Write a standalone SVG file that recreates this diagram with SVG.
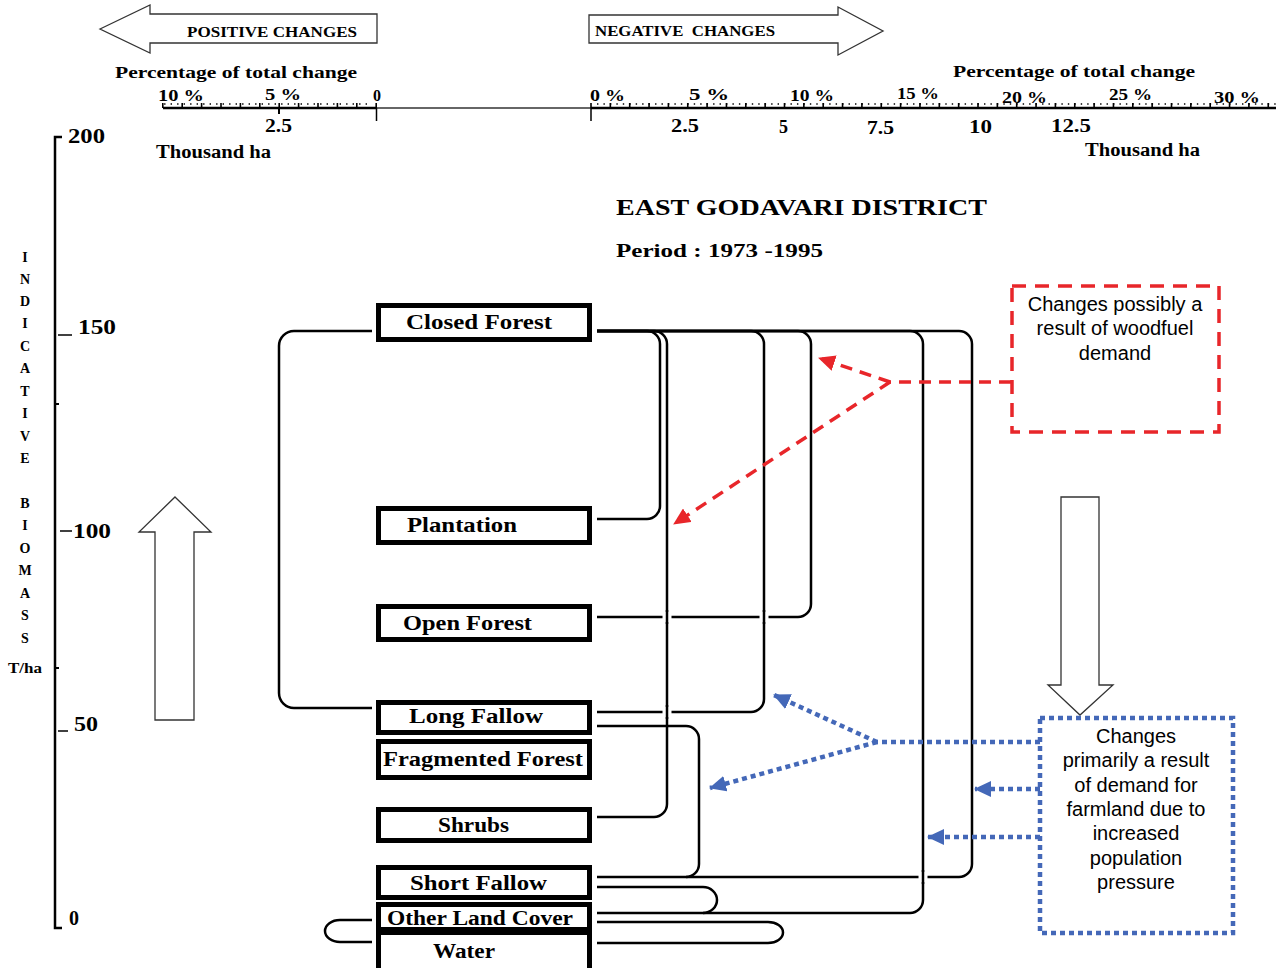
<svg xmlns="http://www.w3.org/2000/svg" width="1283" height="968" viewBox="0 0 1283 968">
<defs>
<style>
.t{font-family:"Liberation Serif","Times New Roman",serif;font-weight:bold;fill:#000}
.n{font-family:"Liberation Serif","Times New Roman",serif;font-weight:bold;fill:#000;font-size:20px}
.a{font-family:"Liberation Sans",Arial,sans-serif;fill:#000;font-size:20px;text-anchor:middle}
.box{fill:#fff;stroke:#000;stroke-width:5}
.c{fill:none;stroke:#000;stroke-width:2.5}
.red{fill:none;stroke:#e8262a;stroke-width:3.5;stroke-dasharray:12 8}
.blue{fill:none;stroke:#4468b8;stroke-width:4.5;stroke-dasharray:5 4}
.big{fill:#fff;stroke:#333;stroke-width:1.3}
.gap{stroke:#fff;stroke-width:9}
</style>
<marker id="ra" markerUnits="userSpaceOnUse" markerWidth="18" markerHeight="16" refX="16" refY="8" orient="auto"><path d="M0,0 L17,8 L0,16 z" fill="#e8262a"/></marker>
<marker id="ba" markerUnits="userSpaceOnUse" markerWidth="18" markerHeight="16" refX="16" refY="8" orient="auto"><path d="M0,0 L17,8 L0,16 z" fill="#4468b8"/></marker>
</defs>
<rect width="1283" height="968" fill="#fff"/>

<g id="header">
<polygon class="big" points="100,29 150,5 150,14 377,14 377,43 150,43 150,53"/>
<text class="t" x="187" y="37" font-size="15" textLength="170" lengthAdjust="spacingAndGlyphs">POSITIVE CHANGES</text>
<polygon class="big" points="589,15 838,15 838,7 883,31 838,55 838,43 589,43"/>
<text class="t" x="595" y="36" font-size="15" textLength="180" lengthAdjust="spacingAndGlyphs" xml:space="preserve">NEGATIVE  CHANGES</text>
<text class="t" x="115" y="78" font-size="17" textLength="242" lengthAdjust="spacingAndGlyphs">Percentage of total change</text>
<text class="t" x="953" y="77" font-size="17" textLength="242" lengthAdjust="spacingAndGlyphs">Percentage of total change</text>
<!-- axes -->
<line x1="163" y1="108" x2="377" y2="108" stroke="#000" stroke-width="2.5"/>
<line x1="377" y1="108" x2="591" y2="108" stroke="#333" stroke-width="1.3"/>
<line x1="591" y1="108" x2="1276" y2="108" stroke="#000" stroke-width="2.5"/>
<line x1="376.5" y1="108" x2="376.5" y2="121" stroke="#000" stroke-width="1.5"/>
<line x1="591" y1="108" x2="591" y2="121" stroke="#000" stroke-width="1.5"/>
<line x1="279" y1="108" x2="279" y2="114" stroke="#000" stroke-width="2"/>
<line x1="377" y1="105.5" x2="162" y2="105.5" stroke="#000" stroke-width="5" stroke-dasharray="1.6 17.8"/>
<line x1="367" y1="104" x2="162" y2="104" stroke="#000" stroke-width="1.4" stroke-dasharray="1.4 5.1"/>
<line x1="590.2" y1="105.5" x2="1276" y2="105.5" stroke="#000" stroke-width="5" stroke-dasharray="1.6 17.75"/>
<line x1="597" y1="104" x2="1276" y2="104" stroke="#000" stroke-width="1.4" stroke-dasharray="1.4 5.05"/>
<g class="t" font-size="16">
<text x="158" y="101" textLength="46" lengthAdjust="spacingAndGlyphs">10 %</text>
<text x="265" y="100" textLength="36" lengthAdjust="spacingAndGlyphs">5 %</text>
<text x="373" y="101">0</text>
<text x="590" y="101" textLength="35" lengthAdjust="spacingAndGlyphs">0 %</text>
<text x="689" y="100" textLength="40" lengthAdjust="spacingAndGlyphs">5 %</text>
<text x="790" y="101" textLength="44" lengthAdjust="spacingAndGlyphs">10 %</text>
<text x="897" y="99" textLength="42" lengthAdjust="spacingAndGlyphs">15 %</text>
<text x="1002" y="103" textLength="45" lengthAdjust="spacingAndGlyphs">20 %</text>
<text x="1109" y="100" textLength="43" lengthAdjust="spacingAndGlyphs">25 %</text>
<text x="1214" y="103" textLength="46" lengthAdjust="spacingAndGlyphs">30 %</text>
</g>
<g class="t" font-size="18">
<text x="265" y="132" textLength="27" lengthAdjust="spacingAndGlyphs">2.5</text>
<text x="671" y="132" textLength="28" lengthAdjust="spacingAndGlyphs">2.5</text>
<text x="779" y="133">5</text>
<text x="867" y="134" textLength="27" lengthAdjust="spacingAndGlyphs">7.5</text>
<text x="969" y="133" textLength="23" lengthAdjust="spacingAndGlyphs">10</text>
<text x="1051" y="132" textLength="40" lengthAdjust="spacingAndGlyphs">12.5</text>
<text x="156" y="158" textLength="115" lengthAdjust="spacingAndGlyphs">Thousand ha</text>
<text x="1085" y="156" textLength="115" lengthAdjust="spacingAndGlyphs">Thousand ha</text>
</g>
<text class="t" x="616" y="215" font-size="24" textLength="371" lengthAdjust="spacingAndGlyphs">EAST GODAVARI DISTRICT</text>
<text class="t" x="616" y="257" font-size="19" textLength="207" lengthAdjust="spacingAndGlyphs">Period : 1973 -1995</text>
</g>

<g id="biomass-axis">
<path d="M62,137 H55 V928 H62" fill="none" stroke="#000" stroke-width="2.5"/>
<line x1="55" y1="404" x2="59" y2="404" stroke="#000" stroke-width="2"/>
<line x1="55" y1="668" x2="59" y2="668" stroke="#000" stroke-width="2"/>
<line x1="58" y1="335" x2="72" y2="335" stroke="#000" stroke-width="1.5"/>
<line x1="60" y1="531" x2="72" y2="531" stroke="#000" stroke-width="1.5"/>
<line x1="58" y1="731" x2="68" y2="731" stroke="#000" stroke-width="1.5"/>
<g class="t" font-size="20">
<text x="68" y="143" textLength="37" lengthAdjust="spacingAndGlyphs">200</text>
<text x="78" y="334" textLength="38" lengthAdjust="spacingAndGlyphs">150</text>
<text x="73" y="538" textLength="38" lengthAdjust="spacingAndGlyphs">100</text>
<text x="74" y="731" textLength="24" lengthAdjust="spacingAndGlyphs">50</text>
<text x="69" y="925">0</text>
</g>
<g class="t" font-size="14" text-anchor="middle">
<text x="25" y="262">I</text>
<text x="25" y="284">N</text>
<text x="25" y="306">D</text>
<text x="25" y="328">I</text>
<text x="25" y="351">C</text>
<text x="25" y="373">A</text>
<text x="25" y="396">T</text>
<text x="25" y="418">I</text>
<text x="25" y="441">V</text>
<text x="25" y="463">E</text>
<text x="25" y="508">B</text>
<text x="25" y="530">I</text>
<text x="25" y="553">O</text>
<text x="25" y="575">M</text>
<text x="25" y="598">A</text>
<text x="25" y="620">S</text>
<text x="25" y="643">S</text>
</g>
<text class="t" x="8" y="673" font-size="15" textLength="34" lengthAdjust="spacingAndGlyphs">T/ha</text>
<polygon class="big" points="175,497 211,532 194,532 194,720 155,720 155,532 139,532"/>
</g>

<g id="connectors">
<path class="c" d="M372,331 H294 A15,15 0 0 0 279,346 V693 A15,15 0 0 0 294,708 H372"/>
<path class="c" d="M597,331 H647 A13,13 0 0 1 660,344 V506 A13,13 0 0 1 647,519 H597"/>
<path class="c" d="M597,331 H654 A13,13 0 0 1 667,344 V804 A13,13 0 0 1 654,817 H597"/>
<path class="c" d="M597,331 H751 A13,13 0 0 1 764,344 V699 A13,13 0 0 1 751,712 H597"/>
<path class="c" d="M597,331 H798 A13,13 0 0 1 811,344 V604 A13,13 0 0 1 798,617 H597"/>
<path class="c" d="M597,331 H910 A13,13 0 0 1 923,344 V900 A13,13 0 0 1 910,913 H597"/>
<path class="c" d="M597,331 H959 A13,13 0 0 1 972,344 V864 A13,13 0 0 1 959,877 H597"/>
<path class="c" d="M597,726 H686 A13,13 0 0 1 699,739 V864 A13,13 0 0 1 686,877"/>
<path class="c" d="M597,887 H703 A14,13 0 0 1 703,913"/>
<path class="c" d="M597,922 H768 A15,10.5 0 0 1 768,943 H597"/>
<path class="c" d="M372,920 H340 A15,11 0 0 0 340,942 H372"/>
<!-- crossings -->
<line class="gap" x1="667" y1="612" x2="667" y2="622"/>
<line class="c" x1="667" y1="610" x2="667" y2="624"/>
<line class="gap" x1="764" y1="612" x2="764" y2="622"/>
<line class="c" x1="764" y1="610" x2="764" y2="624"/>
<line class="gap" x1="667" y1="707" x2="667" y2="717"/>
<line class="c" x1="667" y1="705" x2="667" y2="719"/>
<line class="gap" x1="923" y1="872" x2="923" y2="882"/>
<line class="c" x1="923" y1="870" x2="923" y2="884"/>
<!-- red -->
<path class="red" d="M1011,382 H890"/>
<path class="red" d="M890,382 L819,358" marker-end="url(#ra)"/>
<path class="red" d="M890,382 L674,524" marker-end="url(#ra)"/>
<!-- blue -->
<path class="blue" d="M1040,742 H877"/>
<path class="blue" d="M877,742 L774,695" marker-end="url(#ba)"/>
<path class="blue" d="M877,742 L710,788" marker-end="url(#ba)"/>
<path class="blue" d="M1040,789 H975" marker-end="url(#ba)"/>
<path class="blue" d="M1040,837 H928" marker-end="url(#ba)"/>
</g>

<g id="closed-forest"><rect class="box" x="378.5" y="305.5" width="211" height="34"/><text class="n" x="406" y="329" textLength="146" lengthAdjust="spacingAndGlyphs">Closed Forest</text></g>
<g id="plantation"><rect class="box" x="378.5" y="508.5" width="211" height="34"/><text class="n" x="407" y="532" textLength="110" lengthAdjust="spacingAndGlyphs">Plantation</text></g>
<g id="open-forest"><rect class="box" x="378.5" y="606.5" width="211" height="33"/><text class="n" x="403" y="630" textLength="129" lengthAdjust="spacingAndGlyphs">Open Forest</text></g>
<g id="long-fallow"><rect class="box" x="378.5" y="702.5" width="211" height="30"/><text class="n" x="409" y="723" textLength="134" lengthAdjust="spacingAndGlyphs">Long Fallow</text></g>
<g id="fragmented-forest"><rect class="box" x="378.5" y="741.5" width="211" height="36"/><text class="n" x="383" y="766" textLength="200" lengthAdjust="spacingAndGlyphs">Fragmented Forest</text></g>
<g id="shrubs"><rect class="box" x="378.5" y="809.5" width="211" height="31"/><text class="n" x="438" y="832" textLength="71" lengthAdjust="spacingAndGlyphs">Shrubs</text></g>
<g id="short-fallow"><rect class="box" x="378.5" y="867.5" width="211" height="30"/><text class="n" x="410" y="890" textLength="137" lengthAdjust="spacingAndGlyphs">Short Fallow</text></g>
<g id="other-land-cover"><rect class="box" x="378.5" y="904.5" width="211" height="25"/><text class="n" x="387" y="925" textLength="186" lengthAdjust="spacingAndGlyphs">Other Land Cover</text></g>
<g id="water"><rect class="box" x="378.5" y="932.5" width="211" height="38"/><text class="n" x="433" y="958" textLength="62" lengthAdjust="spacingAndGlyphs">Water</text></g>

<g id="woodfuel-note">
<rect x="1012" y="286" width="207" height="146" fill="none" stroke="#e8262a" stroke-width="3.5" stroke-dasharray="14 9"/>
<text class="a" x="1115" y="311">Changes possibly a</text>
<text class="a" x="1115" y="335">result of woodfuel</text>
<text class="a" x="1115" y="360">demand</text>
</g>

<g id="farmland-note">
<polygon class="big" points="1061,497 1099,497 1099,685 1113,685 1080,715 1048,685 1061,685"/>
<rect x="1040" y="718" width="193" height="215" fill="none" stroke="#4468b8" stroke-width="4.5" stroke-dasharray="5 4"/>
<text class="a" x="1136" y="743">Changes</text>
<text class="a" x="1136" y="767">primarily a result</text>
<text class="a" x="1136" y="792">of demand for</text>
<text class="a" x="1136" y="816">farmland due to</text>
<text class="a" x="1136" y="840">increased</text>
<text class="a" x="1136" y="865">population</text>
<text class="a" x="1136" y="889">pressure</text>
</g>
</svg>
